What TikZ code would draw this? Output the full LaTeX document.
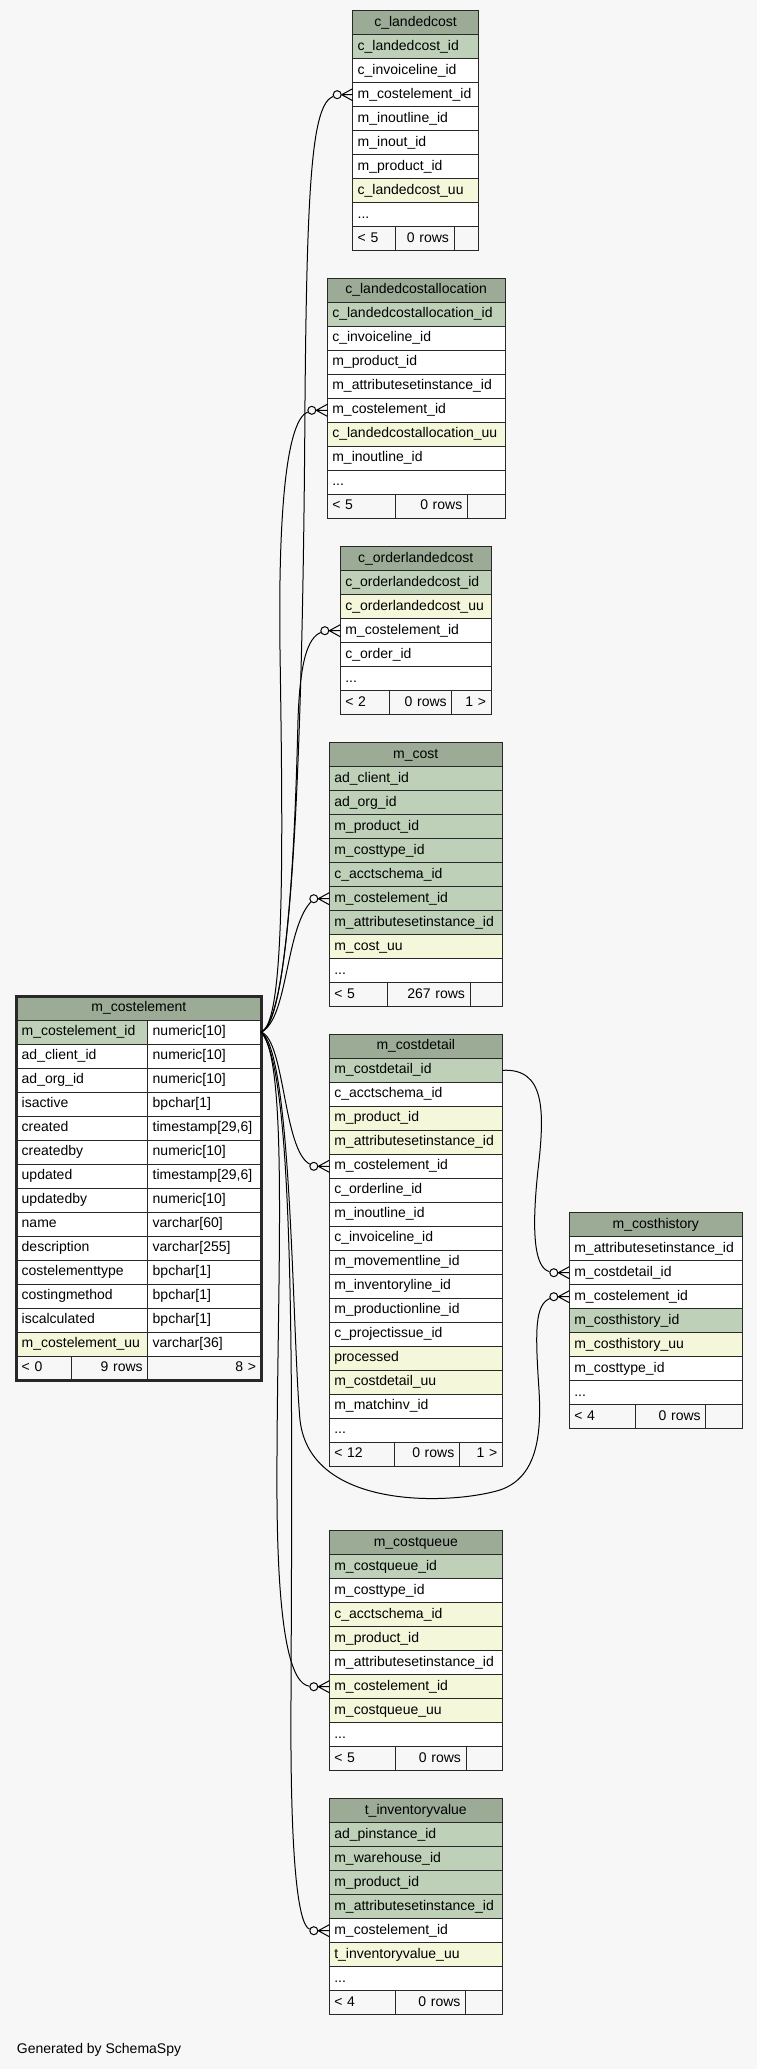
\documentclass[tikz,border=0pt]{standalone}
\usepackage{fontspec}
\setmainfont{Liberation Sans}
\usetikzlibrary{positioning}
\definecolor{schemabg}{RGB}{247,247,247}
\definecolor{headgreen}{RGB}{155,171,150}
\definecolor{pkgreen}{RGB}{190,209,184}
\definecolor{idxcream}{RGB}{244,247,218}
\definecolor{gridline}{RGB}{40,40,40}
\newcommand{\schemafont}{\fontsize{14}{16}\selectfont}
\newcommand{\morecols}{...}
\newcommand{\crowfoot}[2]{%
  \draw[link] (#1.east) -- ([yshift=6pt]#2.west) (#1.east) -- (#2.west) (#1.east) -- ([yshift=-6pt]#2.west);}
\tikzset{
    cell/.style={draw=gridline, line width=1pt, outer sep=0pt, inner sep=0pt, inner xsep=5pt,
      minimum height=24pt, text width=#1, align=left, text height=10pt, text depth=3pt, font=\schemafont},
    thead/.style={cell=#1, fill=headgreen, align=center},
    foot/.style={cell=#1, fill=schemabg},
    odot/.style={circle, draw=black, line width=1pt, fill=schemabg, minimum size=8pt, inner sep=0pt},
    link/.style={draw=black, line width=1pt},
  }

\begin{document}
\begin{tikzpicture}[x=1pt,y=-1pt]
	    \fill[schemabg] (0,0) rectangle (757,2069);
	    % c_landedcost
		    \node[thead=115.7pt, anchor=north west] (lc0) at (352.7,10.7) {c\_landedcost};
		    \foreach \colname/\rowfill [count=\i] in {c\_landedcost\_id/pkgreen, c\_invoiceline\_id/white,
		      m\_costelement\_id/white, m\_inoutline\_id/white, m\_inout\_id/white, m\_product\_id/white,
		      c\_landedcost\_uu/idxcream, \morecols/white}{
		      \pgfmathtruncatemacro\j{\i-1}
		      \node[cell=115.7pt, fill=\rowfill, below=0pt of lc\j] (lc\i) {\colname};
		    }
		    \node[foot=32.3pt, anchor=north west] (lcf1) at (lc8.south west) {< 5};
		    \node[foot=49pt, align=right, right=0pt of lcf1] (lcf2) {0 rows};
		    \node[foot=14.3pt, right=0pt of lcf2] (lcf3) {};
	    % c_landedcostallocation
		    \node[thead=167.7pt, anchor=north west] (la0) at (327.3,278.3) {c\_landedcostallocation};
		    \foreach \colname/\rowfill [count=\i] in {c\_landedcostallocation\_id/pkgreen, c\_invoiceline\_id/white,
		      m\_product\_id/white, m\_attributesetinstance\_id/white, m\_costelement\_id/white,
		      c\_landedcostallocation\_uu/idxcream, m\_inoutline\_id/white, \morecols/white}{
		      \pgfmathtruncatemacro\j{\i-1}
		      \node[cell=167.7pt, fill=\rowfill, below=0pt of la\j] (la\i) {\colname};
		    }
		    \node[foot=57.7pt, anchor=north west] (laf1) at (la8.south west) {< 5};
		    \node[foot=62.3pt, align=right, right=0pt of laf1] (laf2) {0 rows};
		    \node[foot=27.7pt, right=0pt of laf2] (laf3) {};
	    % c_orderlandedcost
		    \node[thead=140.7pt, anchor=north west] (ol0) at (340.3,546.7) {c\_orderlandedcost};
		    \foreach \colname/\rowfill [count=\i] in {c\_orderlandedcost\_id/pkgreen, c\_orderlandedcost\_uu/idxcream,
		      m\_costelement\_id/white, c\_order\_id/white, \morecols/white}{
		      \pgfmathtruncatemacro\j{\i-1}
		      \node[cell=140.7pt, fill=\rowfill, below=0pt of ol\j] (ol\i) {\colname};
		    }
		    \node[foot=39pt, anchor=north west] (olf1) at (ol5.south west) {< 2};
		    \node[foot=52.4pt, align=right, right=0pt of olf1] (olf2) {0 rows};
		    \node[foot=29.3pt, align=right, right=0pt of olf2] (olf3) {1 >};
	    % m_cost
		    \node[thead=163pt, anchor=north west] (co0) at (329.3,742.7) {m\_cost};
		    \foreach \colname/\rowfill [count=\i] in {ad\_client\_id/pkgreen, ad\_org\_id/pkgreen,
		      m\_product\_id/pkgreen, m\_costtype\_id/pkgreen, c\_acctschema\_id/pkgreen, m\_costelement\_id/pkgreen,
		      m\_attributesetinstance\_id/pkgreen, m\_cost\_uu/idxcream, \morecols/white}{
		      \pgfmathtruncatemacro\j{\i-1}
		      \node[cell=163pt, fill=\rowfill, below=0pt of co\j] (co\i) {\colname};
		    }
		    \node[foot=47.7pt, anchor=north west] (cof1) at (co9.south west) {< 5};
		    \node[foot=73pt, align=right, right=0pt of cof1] (cof2) {267 rows};
		    \node[foot=22.3pt, right=0pt of cof2] (cof3) {};
	    % m_costdetail
		    \node[thead=163pt, anchor=north west] (cd0) at (329.3,1034.3) {m\_costdetail};
		    \foreach \colname/\rowfill [count=\i] in {m\_costdetail\_id/pkgreen, c\_acctschema\_id/white,
		      m\_product\_id/idxcream, m\_attributesetinstance\_id/idxcream, m\_costelement\_id/white,
		      c\_orderline\_id/white, m\_inoutline\_id/white, c\_invoiceline\_id/white, m\_movementline\_id/white,
		      m\_inventoryline\_id/white, m\_productionline\_id/white, c\_projectissue\_id/white,
		      processed/idxcream, m\_costdetail\_uu/idxcream, m\_matchinv\_id/white, \morecols/white}{
		      \pgfmathtruncatemacro\j{\i-1}
		      \node[cell=163pt, fill=\rowfill, below=0pt of cd\j] (cd\i) {\colname};
		    }
		    \node[foot=54.7pt, anchor=north west] (cdf1) at (cd16.south west) {< 12};
		    \node[foot=55.3pt, align=right, right=0pt of cdf1] (cdf2) {0 rows};
		    \node[foot=33pt, align=right, right=0pt of cdf2] (cdf3) {1 >};
	    % m_costhistory
		    \node[thead=163pt, anchor=north west] (ch0) at (569.3,1212.7) {m\_costhistory};
		    \foreach \colname/\rowfill [count=\i] in {m\_attributesetinstance\_id/white, m\_costdetail\_id/white,
		      m\_costelement\_id/white, m\_costhistory\_id/pkgreen, m\_costhistory\_uu/idxcream,
		      m\_costtype\_id/white, \morecols/white}{
		      \pgfmathtruncatemacro\j{\i-1}
		      \node[cell=163pt, fill=\rowfill, below=0pt of ch\j] (ch\i) {\colname};
		    }
		    \node[foot=55.7pt, anchor=north west] (chf1) at (ch7.south west) {< 4};
		    \node[foot=60.7pt, align=right, right=0pt of chf1] (chf2) {0 rows};
		    \node[foot=26.6pt, right=0pt of chf2] (chf3) {};
	    % m_costqueue
		    \node[thead=163pt, anchor=north west] (cq0) at (329.3,1530.7) {m\_costqueue};
		    \foreach \colname/\rowfill [count=\i] in {m\_costqueue\_id/pkgreen, m\_costtype\_id/white,
		      c\_acctschema\_id/idxcream, m\_product\_id/idxcream, m\_attributesetinstance\_id/white,
		      m\_costelement\_id/idxcream, m\_costqueue\_uu/idxcream, \morecols/white}{
		      \pgfmathtruncatemacro\j{\i-1}
		      \node[cell=163pt, fill=\rowfill, below=0pt of cq\j] (cq\i) {\colname};
		    }
		    \node[foot=55.7pt, anchor=north west] (cqf1) at (cq8.south west) {< 5};
		    \node[foot=61pt, align=right, right=0pt of cqf1] (cqf2) {0 rows};
		    \node[foot=26.3pt, right=0pt of cqf2] (cqf3) {};
	    % t_inventoryvalue
		    \node[thead=163pt, anchor=north west] (iv0) at (329.3,1798.7) {t\_inventoryvalue};
		    \foreach \colname/\rowfill [count=\i] in {ad\_pinstance\_id/pkgreen, m\_warehouse\_id/pkgreen,
		      m\_product\_id/pkgreen, m\_attributesetinstance\_id/pkgreen, m\_costelement\_id/white,
		      t\_inventoryvalue\_uu/idxcream, \morecols/white}{
		      \pgfmathtruncatemacro\j{\i-1}
		      \node[cell=163pt, fill=\rowfill, below=0pt of iv\j] (iv\i) {\colname};
		    }
		    \node[foot=55.7pt, anchor=north west] (ivf1) at (iv7.south west) {< 4};
		    \node[foot=60.4pt, align=right, right=0pt of ivf1] (ivf2) {0 rows};
		    \node[foot=26.6pt, right=0pt of ivf2] (ivf3) {};
	    % m_costelement, the focus table
		    \node[thead=234.3pt, anchor=north west] (ce0) at (16.7,996) {m\_costelement};
		    \foreach \colname/\coltype/\rowfill [count=\i] in {m\_costelement\_id/numeric[10]/pkgreen,
		      ad\_client\_id/numeric[10]/white, ad\_org\_id/numeric[10]/white, isactive/bpchar[1]/white,
		      created/{timestamp[29,6]}/white, createdby/numeric[10]/white, updated/{timestamp[29,6]}/white,
		      updatedby/numeric[10]/white, name/varchar[60]/white, description/varchar[255]/white,
		      costelementtype/bpchar[1]/white, costingmethod/bpchar[1]/white, iscalculated/bpchar[1]/white,
		      m\_costelement\_uu/varchar[36]/idxcream}{
		      \pgfmathtruncatemacro\j{\i-1}
		      \node[cell=121pt, fill=\rowfill, anchor=north west] (ce\i) at (ce\j.south west) {\colname};
		      \node[cell=103.3pt, fill=white, right=0pt of ce\i] (ct\i) {\coltype};
		    }
		    \node[foot=45pt, anchor=north west] (cef1) at (ce14.south west) {< 0};
		    \node[foot=66pt, align=right, right=0pt of cef1] (cef2) {9 rows};
		    \node[foot=103.3pt, align=right, right=0pt of cef2] (cef3) {8 >};
		    \draw[draw=gridline, line width=3pt] (ce0.north west) rectangle (cef3.south east);
	    % zero-or-many ends
		    \foreach \row in {lc3, la5, ol3, co6, cd5, ch2, ch3, cq6, iv5}
		      \node[odot, left=11pt of \row] (\row dot) {};
		    \foreach \row in {lc3, la5, ol3, co6, cd5, ch2, ch3, cq6, iv5}
		      \crowfoot{\row dot}{\row};
	    % links
		    \draw[link] (ct1.east) .. controls (292,1025) and (303,750) .. (305,400)
		      .. controls (307,180) and (312,105) .. (lc3dot);
		    \draw[link] (ct1.east) .. controls (285,1025) and (283,850) .. (280,650)
		      .. controls (278,500) and (288,420) .. (la5dot);
		    \draw[link] (ct1.east) .. controls (290,1020) and (296,800) .. (298,720)
		      .. controls (300,660) and (308,638) .. (ol3dot);
		    \draw[link] (ct1.east) .. controls (288,1020) and (285,930) .. (co6dot);
		    \draw[link] (ct1.east) .. controls (285,1040) and (283,1150) .. (cd5dot);
		    \draw[link] (ct1.east) .. controls (292,1050) and (292,1330) .. (300,1420)
		      .. controls (310,1510) and (450,1505) .. (500,1490)
		      .. controls (535,1478) and (542,1440) .. (539,1390)
		      .. controls (535,1330) and (535,1305) .. (ch3dot);
		    \draw[link] (ct1.east) .. controls (290,1060) and (276,1300) .. (277,1500)
		      .. controls (278,1640) and (292,1684) .. (cq6dot);
		    \draw[link] (ct1.east) .. controls (296,1070) and (292,1400) .. (291,1700)
		      .. controls (290,1860) and (298,1925) .. (iv5dot);
		    \draw[link] (cd1.east) .. controls (545,1068) and (545,1110) .. (538,1170)
		      .. controls (531,1235) and (535,1268) .. (ch2dot);
		    \node[font=\schemafont, anchor=west, inner sep=0pt] (credit) at (16.7,2050) {Generated by SchemaSpy};
		\end{tikzpicture}
\end{document}
